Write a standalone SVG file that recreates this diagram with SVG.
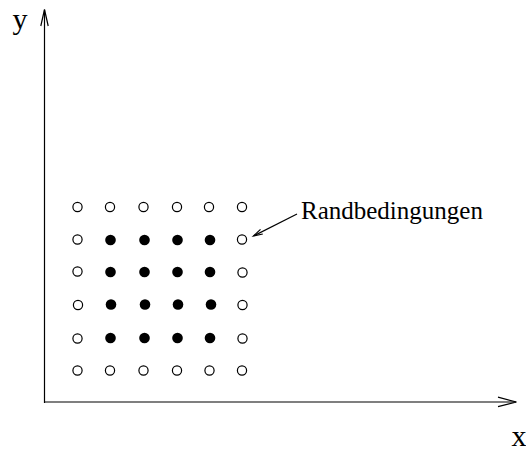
<svg xmlns="http://www.w3.org/2000/svg" width="526" height="453" viewBox="0 0 526 453">
  <style>
    .ln { stroke: #000; stroke-width: 1.2; fill: none; }
    .open { fill: #fff; stroke: #000; stroke-width: 1.2; }
    .full { fill: #000; stroke: none; }
    .lbl { font-family: "Liberation Serif", "Times New Roman", serif; fill: #000; }
  </style>
  <rect width="526" height="453" fill="#fff"/>

  <g id="connectors">
    <!-- y axis -->
    <line class="ln" x1="44.5" y1="403" x2="44.5" y2="10"/>
    <polyline class="ln" points="40.8,26 44.5,9.5 48.2,26"/>
    <!-- x axis -->
    <line class="ln" x1="44" y1="402" x2="516" y2="402"/>
    <polyline class="ln" points="498,397.2 516.5,402 498,406.6"/>
    <!-- pointer to boundary points -->
    <line class="ln" x1="297" y1="214" x2="253.5" y2="236"/>
    <polyline class="ln" points="260.5,229.4 253.5,236 262.8,234"/>
  </g>

  <g id="axis-labels">
    <text class="lbl" x="12.5" y="29" font-size="30">y</text>
    <text class="lbl" x="511.5" y="446" font-size="30">x</text>
  </g>

  <g id="label-randbedingungen">
    <text class="lbl" x="301" y="218.5" font-size="25">Randbedingungen</text>
  </g>

  <!-- boundary points (open) -->
  <g id="boundary">
    <circle class="open" cx="77.5" cy="207" r="4.6"/>
    <circle class="open" cx="110" cy="207" r="4.6"/>
    <circle class="open" cx="143.5" cy="207" r="4.6"/>
    <circle class="open" cx="177" cy="207" r="4.6"/>
    <circle class="open" cx="209" cy="207" r="4.6"/>
    <circle class="open" cx="242" cy="207" r="4.6"/>

    <circle class="open" cx="77.5" cy="239.5" r="4.6"/>
    <circle class="open" cx="242" cy="239.5" r="4.6"/>
    <circle class="open" cx="77.5" cy="271.5" r="4.6"/>
    <circle class="open" cx="242.5" cy="272.5" r="4.6"/>
    <circle class="open" cx="78" cy="305" r="4.6"/>
    <circle class="open" cx="242.5" cy="305" r="4.6"/>
    <circle class="open" cx="77.5" cy="338.5" r="4.6"/>
    <circle class="open" cx="242.5" cy="338.5" r="4.6"/>

    <circle class="open" cx="77.5" cy="370.5" r="4.6"/>
    <circle class="open" cx="110" cy="370.5" r="4.6"/>
    <circle class="open" cx="143.5" cy="370.5" r="4.6"/>
    <circle class="open" cx="177" cy="370.5" r="4.6"/>
    <circle class="open" cx="209.5" cy="370.5" r="4.6"/>
    <circle class="open" cx="242" cy="370.5" r="4.6"/>
  </g>

  <!-- interior points (filled) -->
  <g id="interior">
    <circle class="full" cx="110.5" cy="240" r="5.3"/>
    <circle class="full" cx="144.5" cy="240" r="5.3"/>
    <circle class="full" cx="177.5" cy="240" r="5.3"/>
    <circle class="full" cx="210" cy="240" r="5.3"/>

    <circle class="full" cx="110.5" cy="272" r="5.3"/>
    <circle class="full" cx="144.5" cy="272" r="5.3"/>
    <circle class="full" cx="177.5" cy="272" r="5.3"/>
    <circle class="full" cx="210" cy="272" r="5.3"/>

    <circle class="full" cx="111" cy="304.5" r="5.3"/>
    <circle class="full" cx="145" cy="304.5" r="5.3"/>
    <circle class="full" cx="178" cy="304.5" r="5.3"/>
    <circle class="full" cx="211" cy="304.5" r="5.3"/>

    <circle class="full" cx="110.5" cy="338" r="5.3"/>
    <circle class="full" cx="144.5" cy="338" r="5.3"/>
    <circle class="full" cx="177.5" cy="338" r="5.3"/>
    <circle class="full" cx="210" cy="338" r="5.3"/>
  </g>
</svg>
